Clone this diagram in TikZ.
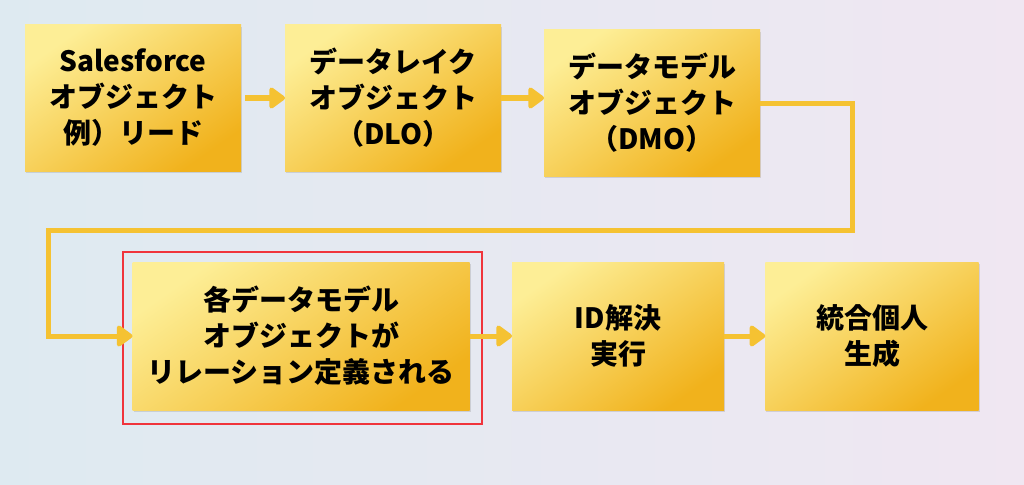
\documentclass[tikz,border=0pt]{standalone}
\usepackage{fontspec}
\setmainfont{Noto Sans CJK JP}
\usetikzlibrary{arrows.meta,shadows}

\definecolor{bgblue}{RGB}{222,234,241}
\definecolor{bgcream}{RGB}{245,242,236}
\definecolor{bgpink}{RGB}{240,231,242}
\definecolor{goldlight}{RGB}{253,238,150}
\definecolor{goldmid}{RGB}{249,212,66}
\definecolor{golddark}{RGB}{241,178,28}
\definecolor{flowgold}{RGB}{245,194,50}
\definecolor{framered}{RGB}{240,52,60}

\tikzset{
  stepbox/.style={rectangle, inner sep=0pt, outer sep=0pt,
    minimum width=162pt, minimum height=109.5pt,
    left color=golddark, middle color=goldmid, right color=goldlight,
    shading angle=-145,
    drop shadow={shadow xshift=0.8pt, shadow yshift=-1.5pt, opacity=0.25},
    align=center, font=\bfseries\fontsize{21}{27}\selectfont},
  flow/.style={draw=flowgold, line width=3.75pt,
    -{Triangle[length=13pt,width=18pt,round]}},
  highlight/.style={draw=framered, line width=1.5pt}
}

\begin{document}
\begin{tikzpicture}[x=0.75pt, y=-0.75pt]
    % Background
    \useasboundingbox (0,0) rectangle (1024,485);
    \shade[left color=bgblue, middle color=bgcream, right color=bgpink] (0,0) rectangle (1024,485);

    % Top row
    \node[stepbox] (sfobj) at (133,98) {Salesforce\\オブジェクト\\例）リード};
    \node[stepbox] (dlo) at (393,98) {データレイク\\オブジェクト\\（DLO）};
    \node[stepbox] (dmo) at (652,103) {データモデル\\オブジェクト\\（DMO）};

    % Bottom row
    \node[stepbox, minimum width=252.75pt, minimum height=111pt] (eachdmo) at (301,336)
        {各データモデル\\オブジェクトが\\リレーション定義される};
    \node[stepbox, minimum width=159pt, minimum height=111pt] (idres) at (618,336) {ID解決\\実行};
    \node[stepbox, minimum width=160pt, minimum height=111pt] (unified) at (872,336) {統合個人\\生成};

    % Highlight frame
    \draw[highlight] (123,252) rectangle (482,424);

    % Turn points of the return line
    \coordinate (turnA) at (852,230);
    \coordinate (turnB) at (48,230);

    % Connectors
    \draw[flow] (sfobj.east) ++(4,0) -- (dlo.west);
    \draw[flow] (dlo.east) -- (dlo.east -| dmo.west);
    \draw[flow] (dmo.east) -| (turnA) -- (turnB) |- (eachdmo.west);
    \draw[flow] (eachdmo.east) -- (idres.west);
    \draw[flow] (idres.east) -- (unified.west);
\end{tikzpicture}
\end{document}
